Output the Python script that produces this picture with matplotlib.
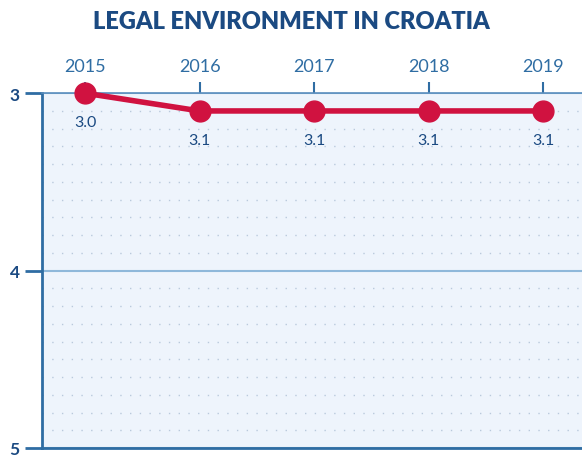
import matplotlib.pyplot as plt
from matplotlib.ticker import MultipleLocator

# data
years = [2015, 2016, 2017, 2018, 2019]
scores = [3.0, 3.1, 3.1, 3.1, 3.1]
labels = ['3.0', '3.1', '3.1', '3.1', '3.1']

navy = '#1b4a82'
axcol = '#2f6da3'
red = '#d01240'

plt.rcParams['font.family'] = ['Lato', 'DejaVu Sans']

fig = plt.figure(figsize=(5.82, 4.56), dpi=100)
ax = fig.add_axes([0.0722, 0.0154, 0.9278, 0.778])
ax.set_facecolor('#eef4fc')

ax.plot(years, scores, color=red, lw=4, marker='o', ms=15,
        markerfacecolor=red, markeredgecolor=red, zorder=5, clip_on=False)
for x, y, t in zip(years, scores, labels):
    ax.text(x, y + 0.165, t, ha='center', va='center', fontsize=11.5,
            color=navy, zorder=6)

ax.set_ylim(5, 3)
ax.set_xlim(2015 - 0.376, 2019.34)
ax.set_yticks([3, 4, 5])
ax.set_yticklabels(['3', '4', '5'], fontsize=12.5, fontweight='bold', color=navy)
ax.yaxis.set_minor_locator(MultipleLocator(0.1))
ax.xaxis.tick_top()
ax.set_xticks(years)
ax.set_xticklabels([str(y) for y in years], fontsize=13, color=axcol)
ax.tick_params(axis='y', which='major', length=12, width=2, color=axcol, pad=4)
ax.tick_params(axis='y', which='minor', length=0)
ax.tick_params(axis='x', length=8, width=1.5, color=axcol, pad=6)

ax.grid(axis='y', which='minor', color='#b9c9dc', ls=(0, (1, 6)), lw=1)
ax.grid(axis='y', which='major', color='#8fb8da', lw=1.5)

for s in ['left', 'bottom']:
    ax.spines[s].set_color(axcol)
    ax.spines[s].set_linewidth(2)
ax.spines['top'].set_color('#5a8dbd')
ax.spines['top'].set_linewidth(1.2)
ax.spines['right'].set_visible(False)

fig.text(0.5, 0.952, 'LEGAL ENVIRONMENT IN CROATIA', ha='center', va='center',
         fontsize=17, fontweight='heavy', color=navy)

plt.savefig('out.png', dpi=100)
